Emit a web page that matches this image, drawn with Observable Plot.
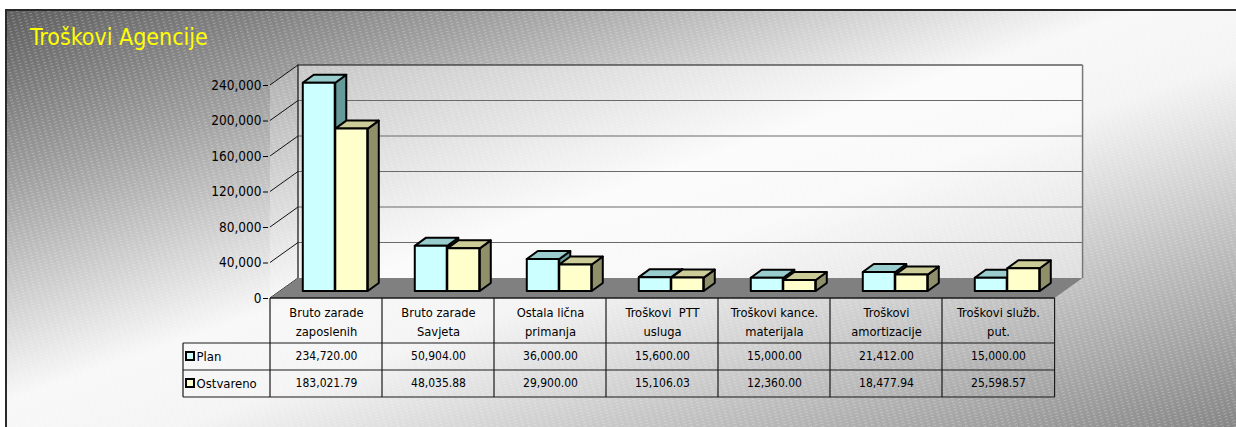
<!DOCTYPE html>
<html><head><meta charset="utf-8">
<script src="https://cdn.jsdelivr.net/npm/d3@7"></script>
<script src="https://cdn.jsdelivr.net/npm/@observablehq/plot@0.6"></script>
<style>
body{margin:0;background:#fff;}
#wrap{position:relative;width:1236px;height:427px;overflow:hidden;}
#title{position:absolute;left:30px;top:24px;color:#ffff00;font-size:23px;font-family:"DejaVu Sans Condensed","DejaVu Sans",sans-serif;white-space:nowrap;}
</style></head><body>
<div id="wrap"><div id="chart"></div><div id="title">Troškovi Agencije</div></div>
<script>
// ---- data ----
const categories = ["Bruto zarade\nzaposlenih", "Bruto zarade\nSavjeta", "Ostala lična\nprimanja", "Troškovi \u00a0PTT\nusluga", "Troškovi kance.\nmaterijala", "Troškovi\namortizacije", "Troškovi služb.\nput."];
const seriesNames = ["Plan", "Ostvareno"];
const plan = [234720.00, 50904.00, 36000.00, 15600.00, 15000.00, 21412.00, 15000.00];
const ostvareno = [183021.79, 48035.88, 29900.00, 15106.03, 12360.00, 18477.94, 25598.57];
const yTicks = [0, 40000, 80000, 120000, 160000, 200000, 240000];

const rows = categories.flatMap((c, i) => [
  {cat: c, series: "Plan", value: plan[i]},
  {cat: c, series: "Ostvareno", value: ostvareno[i]}
]);

// ---- layout / style ----
const W = 1236, H = 427;
const ML = 268, MR = 180, MT = 85, MB = 129;
const DX = 28, DY = -20;     // wall depth
const FX = 10, FY = -7;      // bar front-face offset into depth
const BX = 11, BY = -8;      // bar depth
const FONT = '"DejaVu Sans Condensed","DejaVu Sans",sans-serif';
const colors = {
  Plan: {front: "#CCFFFF", top: "#99CCCC", side: "#669999"},
  Ostvareno: {front: "#FFFFCC", top: "#CCCC99", side: "#8F8F6A"}
};
const span = {Plan: [-33.5, -1], Ostvareno: [-1, 31.5]};
const bandW = (W - ML - MR) / categories.length;
const fmt2 = d3.format(",.2f");
const ROW1 = 58, ROW2 = 85;  // table value rows, px below the floor edge

function background() {
  const g = d3.create("svg:g");
  const defs = g.append("defs");
  const lg = defs.append("linearGradient").attr("id", "bg").attr("x1", 0).attr("y1", 0).attr("x2", 1).attr("y2", 1);
  [[0, "#5e5e5e"], [0.2, "#9e9e9e"], [0.46, "#f8f8f8"], [0.56, "#f4f4f4"], [1, "#838383"]].forEach(([o, c]) =>
    lg.append("stop").attr("offset", o).attr("stop-color", c));
  const pat = defs.append("pattern").attr("id", "tex").attr("patternUnits", "userSpaceOnUse")
    .attr("width", 6).attr("height", 3).attr("patternTransform", "rotate(-16)");
  pat.append("rect").attr("width", 3).attr("height", 1).attr("fill", "#fff").attr("opacity", 0.25);
  g.append("rect").attr("x", 5).attr("y", 9).attr("width", W).attr("height", H).attr("fill", "url(#bg)");
  g.append("rect").attr("x", 5).attr("y", 9).attr("width", W).attr("height", H).attr("fill", "url(#tex)");
  g.append("path").attr("d", `M6,${H}V10H${W}`).attr("fill", "none").attr("stroke", "#2a2a2a").attr("stroke-width", 2);
  return g.node();
}

function walls(index, scales) {
  const {x, y} = scales;
  const x0 = x(categories[0]), x1 = x(categories[categories.length - 1]) + bandW;
  const yTop = y(yTicks[yTicks.length - 1]), y0 = y(0);
  const g = d3.create("svg:g");
  g.append("rect").attr("x", x0 + DX).attr("y", yTop + DY).attr("width", x1 - x0).attr("height", y0 - yTop)
    .attr("fill", "#fff").attr("fill-opacity", 0.45);
  g.append("path").attr("d", `M${x0},${yTop}L${x0 + DX},${yTop + DY}V${y0 + DY}L${x0},${y0}Z`)
    .attr("fill", "#fff").attr("fill-opacity", 0.25);
  yTicks.slice(1, -1).forEach(t => {
    g.append("line").attr("x1", x0 + DX).attr("x2", x1 + DX).attr("y1", y(t) + DY).attr("y2", y(t) + DY)
      .attr("stroke", "#6a6a6a").attr("stroke-width", 1.2);
  });
  yTicks.forEach(t => {
    g.append("line").attr("x1", x0).attr("y1", y(t)).attr("x2", x0 + DX).attr("y2", y(t) + DY)
      .attr("stroke", "#111").attr("stroke-width", 1);
  });
  g.append("path").attr("d", `M${x0 + DX},${y0 + DY}V${yTop + DY}H${x1 + DX}`).attr("fill", "none").attr("stroke", "#111").attr("stroke-width", 1.2);
  g.append("line").attr("x1", x1 + DX).attr("x2", x1 + DX).attr("y1", yTop + DY).attr("y2", y0 + DY).attr("stroke", "#777").attr("stroke-width", 1.5);
  g.append("path").attr("d", `M${x0},${y0}L${x0 + DX},${y0 + DY}H${x1 + DX}L${x1},${y0}Z`).attr("fill", "#808080");
  return g.node();
}

function barFaces(series) {
  return (index, scales) => {
    const {x, y} = scales;
    const g = d3.create("svg:g").attr("stroke", "#000").attr("stroke-width", 2).attr("stroke-linejoin", "round");
    rows.filter(d => d.series === series).forEach(d => {
      const c = x(d.cat) + bandW / 2 + FX;
      const xl = c + span[series][0], xr = c + span[series][1];
      const yt = y(d.value) + FY, yb = y(0) + FY;
      g.append("path").attr("d", `M${xr},${yb}V${yt}l${BX},${BY}V${yb + BY}Z`).attr("fill", colors[series].side);
      g.append("path").attr("d", `M${xl},${yt}H${xr}l${BX},${BY}H${xl + BX}Z`).attr("fill", colors[series].top);
    });
    return g.node();
  };
}

function frontBars(series) {
  return Plot.barY(rows.filter(d => d.series === series), {
    x: "cat", y: "value", fill: colors[series].front, stroke: "#000", strokeWidth: 2, strokeLinejoin: "round",
    insetLeft: bandW / 2 + span[series][0], insetRight: bandW / 2 - span[series][1], dx: FX, dy: FY
  });
}

function tableGrid(index, scales) {
  const {x, y} = scales;
  const x0 = x(categories[0]), x1 = x(categories[categories.length - 1]) + bandW;
  const y0 = y(0);
  const r1 = y0 + 45, r2 = r1 + 27, r3 = r2 + 27, lx = x0 - 87;
  const g = d3.create("svg:g").attr("stroke", "#1a1a1a").attr("stroke-width", 1.2).attr("fill", "none");
  g.append("line").attr("x1", x0).attr("x2", x1).attr("y1", y0).attr("y2", y0).attr("stroke-width", 1.6);
  categories.forEach(c => {
    const xx = x(c);
    g.append("line").attr("x1", xx).attr("x2", xx).attr("y1", y0).attr("y2", r3);
  });
  g.append("line").attr("x1", x1).attr("x2", x1).attr("y1", y0).attr("y2", r3);
  [r1, r2, r3].forEach(r => g.append("line").attr("x1", lx).attr("x2", x1).attr("y1", r).attr("y2", r));
  g.append("line").attr("x1", lx).attr("x2", lx).attr("y1", r1).attr("y2", r3);
  seriesNames.forEach((s, i) => {
    g.append("rect").attr("x", lx + 3).attr("y", r1 + 9 + i * 27).attr("width", 8).attr("height", 8)
      .attr("fill", colors[s].front).attr("stroke", "#000").attr("stroke-width", 2);
  });
  return g.node();
}

const txt = {frameAnchor: "bottom", lineAnchor: "middle", fontSize: 11.5, fill: "#000"};

const chart = Plot.plot({
  width: W, height: H,
  marginLeft: ML, marginRight: MR, marginTop: MT, marginBottom: MB,
  style: {fontFamily: FONT, fontSize: "12px", color: "#000", background: "transparent", overflow: "visible"},
  x: {type: "band", domain: categories, padding: 0, axis: null},
  y: {domain: [0, 240000], axis: null},
  marks: [
    background,
    walls,
    barFaces("Plan"), frontBars("Plan"),
    barFaces("Ostvareno"), frontBars("Ostvareno"),
    Plot.axisY(yTicks, {tickFormat: d3.format(","), tickSize: 5, tickPadding: 2, fontSize: 13.5, stroke: "#000", label: null}),
    tableGrid,
    Plot.text(categories, {...txt, x: d => d, text: d => d, dy: 22, lineHeight: 1.45, fontSize: 12.8}),
    Plot.text(categories, {...txt, x: d => d, text: (d, i) => fmt2(plan[i]), dy: ROW1, fontSize: 12}),
    Plot.text(categories, {...txt, x: d => d, text: (d, i) => fmt2(ostvareno[i]), dy: ROW2, fontSize: 12}),
    Plot.text([seriesNames[0]], {...txt, frameAnchor: "bottom-left", text: d => d, dx: -72, dy: ROW1, textAnchor: "start", fontSize: 13}),
    Plot.text([seriesNames[1]], {...txt, frameAnchor: "bottom-left", text: d => d, dx: -72, dy: ROW2, textAnchor: "start", fontSize: 13})
  ]
});
document.getElementById("chart").appendChild(chart);
</script>
</body></html>
